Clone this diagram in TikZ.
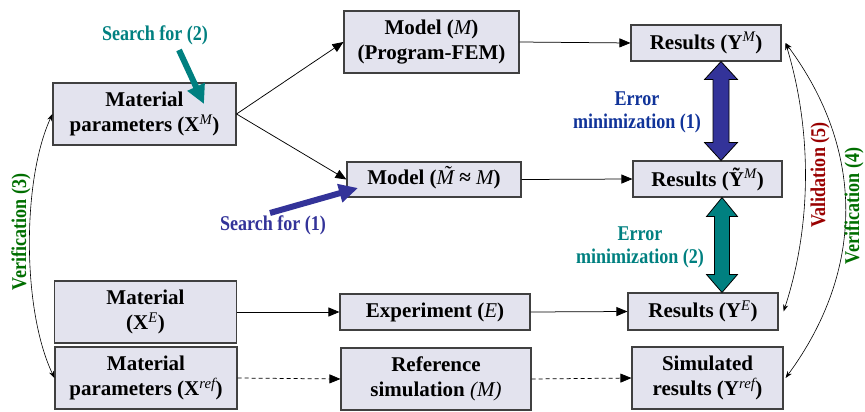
\documentclass[tikz,border=0pt]{standalone}
\usepackage{fontspec}
\setmainfont{Liberation Serif}
\newfontfamily\condf[FakeStretch=0.86]{Liberation Serif}
\usetikzlibrary{arrows.meta,calc}
\definecolor{boxfill}{HTML}{E3E3EE}
\definecolor{boxline}{HTML}{404040}
\definecolor{tealc}{HTML}{008080}
\definecolor{bluec}{HTML}{333399}
\definecolor{bluet}{HTML}{103399}
\definecolor{redc}{HTML}{990000}
\definecolor{greenc}{HTML}{006E00}
\newcommand\im[1]{{\mdseries\itshape #1}}
\newcommand\sps[1]{\textsuperscript{\mdseries\itshape #1}}
\newcommand\tlM{{\mdseries\itshape\ooalign{M\cr\hidewidth\kern0.15em\raisebox{0.18em}{\char"02DC}\hidewidth\cr}}}
\begin{document}
\begin{tikzpicture}[x=1pt,y=-1pt,
  box/.style={draw=boxline,fill=boxfill,line width=1.1pt,align=center,inner sep=0pt,
    font=\bfseries\fontsize{21}{25}\selectfont},
  lbl/.style={align=center,inner sep=0pt,font=\condf\bfseries\fontsize{21}{23}\selectfont},
  conn/.style={line width=0.75pt,-{Triangle[length=11pt,width=9pt]}},
  dconn/.style={conn,dashed,dash pattern=on 4pt off 3pt},
  curv/.style={line width=0.6pt,{Stealth[length=7pt,width=5pt]}-{Stealth[length=7pt,width=5pt]}},
  dbl/.style={draw=black,line width=0.8pt,line join=miter},
  srch/.style={line width=6pt,-{Triangle[length=19pt,width=18pt]}}]
\useasboundingbox (0,0) rectangle (865,412);

% boxes
\node[box,minimum width=183pt,minimum height=62pt] (xm) at (144.5,114) {Material\\parameters (\textbf{X}\sps{M})};
\node[box,minimum width=175pt,minimum height=62pt] (mm) at (431.5,42) {Model (\im{M})\\(Program-FEM)};
\node[box,minimum width=150pt,minimum height=36pt] (ym) at (706,43) {Results (\textbf{Y}\sps{M})};
\node[box,minimum width=174pt,minimum height=35pt] (mt) at (434,179.5) {Model (\tlM\ ≈\ \im{M})};
\node[box,minimum width=149pt,minimum height=36pt] (yt) at (707.5,179) {Results (\textbf{Ỹ}\sps{M})};
\node[box,minimum width=182pt,minimum height=62pt] (xe) at (145.5,312) {Material\\(\textbf{X}\sps{E})};
\node[box,minimum width=190pt,minimum height=36pt] (ex) at (435,312) {Experiment (\im{E})};
\node[box,minimum width=150pt,minimum height=37pt] (ye) at (703,311.5) {Results (\textbf{Y}\sps{E})};
\node[box,minimum width=182pt,minimum height=62pt] (xr) at (146,378) {Material\\parameters (\textbf{X}\sps{ref})};
\node[box,minimum width=190pt,minimum height=62pt] (rs) at (436,379) {Reference\\simulation \im{(M)}};
\node[box,minimum width=151pt,minimum height=62pt] (sr) at (707.5,378) {Simulated\\results (\textbf{Y}\sps{ref})};

% connectors
\draw[conn] (xm.east) -- (mm.west);
\draw[conn] (xm.east) -- (mt.west);
\draw[conn] (mm.east) -- (ym.west);
\draw[conn] (mt.east) -- (yt.west);
\draw[conn] (xe.east) -- (ex.west);
\draw[conn] (ex.east) -- (ye.west);
\draw[dconn] (xr.east) -- (rs.west);
\draw[dconn] (rs.east) -- (sr.west);

% double arrows
\coordinate (ax) at (721,0);
\coordinate (bx) at (722,0);
\draw[dbl,fill=bluec] (ax |- ym.south) -- ++(16.5,18) -- ++(-8.5,0)
  -- ($(ax |- yt.north)+(8,-18)$) -- ++(8.5,0) -- (ax |- yt.north)
  -- ++(-16.5,-18) -- ++(8.5,0) -- ($(ax |- ym.south)+(-8,18)$) -- ++(-8.5,0) -- cycle;
\draw[dbl,fill=tealc] (bx |- yt.south) -- ++(15.5,19) -- ++(-8,0)
  -- ($(bx |- ye.north)+(7.5,-18)$) -- ++(8,0) -- (bx |- ye.north)
  -- ++(-15.5,-18) -- ++(8,0) -- ($(bx |- yt.south)+(-7.5,19)$) -- ++(-8,0) -- cycle;

% curved arrows
\draw[curv] (xm.west) .. controls (22,180) and (22,310) .. (xr.west);
\draw[curv] ([xshift=4pt]ym.east) .. controls (812,130) and (812,225) .. ([xshift=5pt]ye.east);
\draw[curv] ([xshift=4pt]ym.east) .. controls (865,150) and (865,270) .. ([xshift=2pt]sr.east);

% search arrows
\coordinate (s2a) at (179,50);
\coordinate (s2b) at (204,104);
\draw[srch,tealc] (s2a) -- (s2b);
\coordinate (s1a) at (270,213);
\coordinate (s1b) at (358,188);
\draw[srch,bluec] (s1a) -- (s1b);

% labels
\node[lbl,text=tealc] (l2) at (155,35) {Search for (2)};
\node[lbl,text=bluec] (l1) at (273,225) {Search for (1)};
\node[lbl,text=bluet] (e1) at (637,112) {Error\\minimization (1)};
\node[lbl,text=tealc] (e2) at (640,247) {Error\\minimization (2)};
\node[lbl,text=greenc,rotate=90] (v3) at (21,232) {Verification (3)};
\node[lbl,text=redc,rotate=90] (v5) at (820,175) {Validation (5)};
\node[lbl,text=greenc,rotate=90] (v4) at (854,206) {Verification (4)};
\end{tikzpicture}
\end{document}
